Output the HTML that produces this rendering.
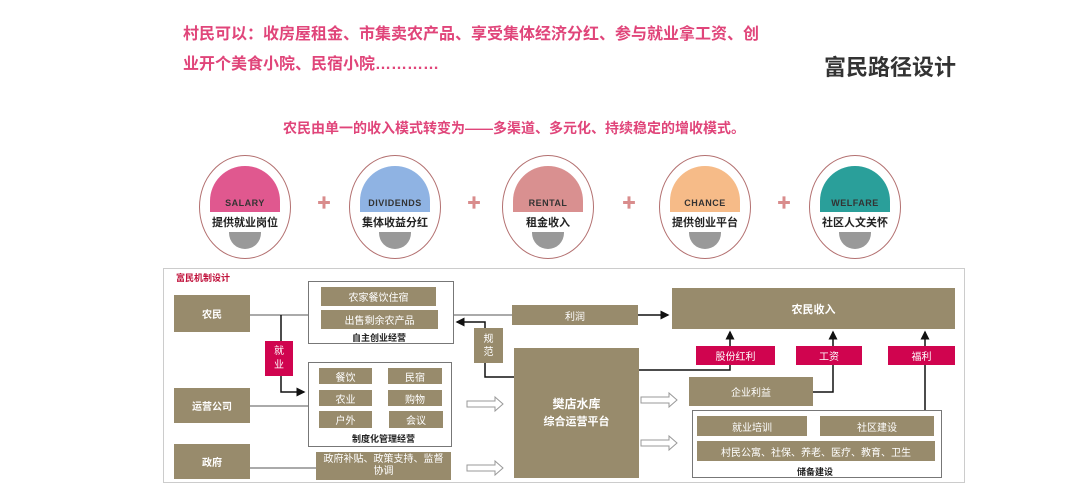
<!DOCTYPE html>
<html><head><meta charset="utf-8"><style>
body{margin:0;width:1083px;height:504px;background:#fff;position:relative;overflow:hidden;font-family:"Liberation Sans","Noto Sans CJK SC",sans-serif}
.a{position:absolute;box-sizing:border-box}
.b{position:absolute;box-sizing:border-box;background:#988b6c;color:#fff;font-size:10px;display:flex;align-items:center;justify-content:center;text-align:center}
.p{position:absolute;box-sizing:border-box;background:#d0044f;color:#fff;font-size:10px;display:flex;align-items:center;justify-content:center}
.o{position:absolute;box-sizing:border-box;border:1.5px solid #777;background:#fff}
.lab{position:absolute;font-size:9px;font-weight:bold;color:#222}
.ov{position:absolute;width:92px;height:104px;border:1.5px solid #b37070;border-radius:50%;box-sizing:border-box;overflow:hidden}
.dome{position:absolute;left:10px;top:10px;width:70px;height:46px;border-radius:35px 35px 0 0}
.dome span{position:absolute;left:0;right:0;bottom:4px;text-align:center;font-size:9px;font-weight:bold;color:#333;letter-spacing:.5px}
.ovt{position:absolute;left:0;right:0;top:58px;text-align:center;font-size:11px;font-weight:bold;color:#222}
.g{position:absolute;left:29px;top:76px;width:32px;height:17px;background:#999;border-radius:0 0 16px 16px}
.plus{position:absolute;color:#d98c8c;font-size:14px;top:193px}
</style></head><body>
<div class="a" style="left:183px;top:20px;font-size:16px;font-weight:bold;color:#e0457a;line-height:30px;width:600px">村民可以：收房屋租金、市集卖农产品、享受集体经济分红、参与就业拿工资、创<br>业开个美食小院、民宿小院…………</div>
<div class="a" style="left:824px;top:50px;font-size:22px;font-weight:bold;color:#333">富民路径设计</div>
<div class="a" style="left:283px;top:118px;font-size:14px;font-weight:bold;color:#e0457a">农民由单一的收入模式转变为——多渠道、多元化、持续稳定的增收模式。</div>

<div class="ov" style="left:199px;top:155px"><div class="dome" style="background:#e0588f"><span>SALARY</span></div><div class="ovt">提供就业岗位</div><div class="g"></div></div>
<div class="plus" style="left:317px">✚</div>
<div class="ov" style="left:349px;top:155px"><div class="dome" style="background:#8fb3e3"><span>DIVIDENDS</span></div><div class="ovt">集体收益分红</div><div class="g"></div></div>
<div class="plus" style="left:467px">✚</div>
<div class="ov" style="left:502px;top:155px"><div class="dome" style="background:#d99090"><span>RENTAL</span></div><div class="ovt">租金收入</div><div class="g"></div></div>
<div class="plus" style="left:622px">✚</div>
<div class="ov" style="left:659px;top:155px"><div class="dome" style="background:#f6bb88"><span>CHANCE</span></div><div class="ovt">提供创业平台</div><div class="g"></div></div>
<div class="plus" style="left:777px">✚</div>
<div class="ov" style="left:809px;top:155px"><div class="dome" style="background:#2a9f9a"><span>WELFARE</span></div><div class="ovt">社区人文关怀</div><div class="g"></div></div>

<div class="a" style="left:163px;top:268px;width:802px;height:215px;border:1px solid #ccc"></div>
<div class="a" style="left:176px;top:271px;font-size:9px;font-weight:bold;color:#c0103a">富民机制设计</div>

<svg class="a" style="left:0;top:0" width="1083" height="504">
<defs><marker id="m" markerWidth="6" markerHeight="6" refX="5" refY="3" orient="auto"><path d="M0,0L6,3L0,6z" fill="#111"/></marker></defs>
<g stroke="#555" stroke-width="1" fill="none">
<path d="M250,315H308M250,406H308M250,468H316M453,315H512"/>
</g>
<g stroke="#111" stroke-width="1.5" fill="none">
<path d="M281,315V392H304" marker-end="url(#m)"/>
<path d="M485,328V322H457" marker-end="url(#m)"/>
<path d="M485,363V377H514"/>
<path d="M638,315H668" marker-end="url(#m)"/>
<path d="M639,370H730V346M730,346V332" marker-end="url(#m)"/>
<path d="M813,392H833V346M833,346V332" marker-end="url(#m)"/>
<path d="M925,410V346M925,346V332" marker-end="url(#m)"/>
</g>
<g stroke="#999" fill="#fff" stroke-width="1">
<path d="M467,401H495V397L503,404L495,411V407H467z"/>
<path d="M467,465H495V461L503,468L495,475V471H467z"/>
<path d="M641,397H669V393L677,400L669,407V403H641z"/>
<path d="M641,440H669V436L677,443L669,450V446H641z"/>
</g>
</svg>

<div class="b" style="left:174px;top:295px;width:76px;height:37px;font-weight:bold">农民</div>
<div class="b" style="left:174px;top:388px;width:76px;height:35px;font-weight:bold">运营公司</div>
<div class="b" style="left:174px;top:444px;width:76px;height:35px;font-weight:bold">政府</div>

<div class="o" style="left:308px;top:281px;width:146px;height:63px"></div>
<div class="b" style="left:321px;top:287px;width:115px;height:19px">农家餐饮住宿</div>
<div class="b" style="left:321px;top:310px;width:117px;height:19px">出售剩余农产品</div>
<div class="lab" style="left:352px;top:331px">自主创业经营</div>

<div class="p" style="left:265px;top:341px;width:28px;height:35px;line-height:14px;text-align:center">就<br>业</div>

<div class="o" style="left:308px;top:362px;width:144px;height:85px"></div>
<div class="b" style="left:319px;top:368px;width:53px;height:16px">餐饮</div>
<div class="b" style="left:388px;top:368px;width:54px;height:16px">民宿</div>
<div class="b" style="left:319px;top:390px;width:53px;height:16px">农业</div>
<div class="b" style="left:388px;top:390px;width:54px;height:16px">购物</div>
<div class="b" style="left:319px;top:411px;width:53px;height:17px">户外</div>
<div class="b" style="left:389px;top:411px;width:54px;height:17px">会议</div>
<div class="lab" style="left:352px;top:432px">制度化管理经营</div>

<div class="b" style="left:316px;top:452px;width:135px;height:28px;line-height:12px;padding:0 4px">政府补贴、政策支持、监督协调</div>
<div class="b" style="left:474px;top:328px;width:29px;height:35px;line-height:13px;flex-direction:column">规<br>范</div>
<div class="b" style="left:512px;top:305px;width:126px;height:20px">利润</div>
<div class="b" style="left:514px;top:348px;width:125px;height:130px;font-size:12px;font-weight:bold;flex-direction:column;line-height:18px">樊店水库<br><span style="font-size:11px">综合运营平台</span></div>

<div class="b" style="left:672px;top:288px;width:283px;height:41px;font-weight:bold;font-size:11px">农民收入</div>
<div class="p" style="left:696px;top:346px;width:79px;height:19px">股份红利</div>
<div class="p" style="left:796px;top:346px;width:66px;height:19px">工资</div>
<div class="p" style="left:888px;top:346px;width:67px;height:19px">福利</div>
<div class="b" style="left:689px;top:377px;width:124px;height:29px">企业利益</div>
<div class="o" style="left:692px;top:410px;width:250px;height:68px"></div>
<div class="b" style="left:697px;top:416px;width:110px;height:20px">就业培训</div>
<div class="b" style="left:820px;top:416px;width:114px;height:20px">社区建设</div>
<div class="b" style="left:697px;top:441px;width:238px;height:20px">村民公寓、社保、养老、医疗、教育、卫生</div>
<div class="lab" style="left:797px;top:465px">储备建设</div>
</body></html>
